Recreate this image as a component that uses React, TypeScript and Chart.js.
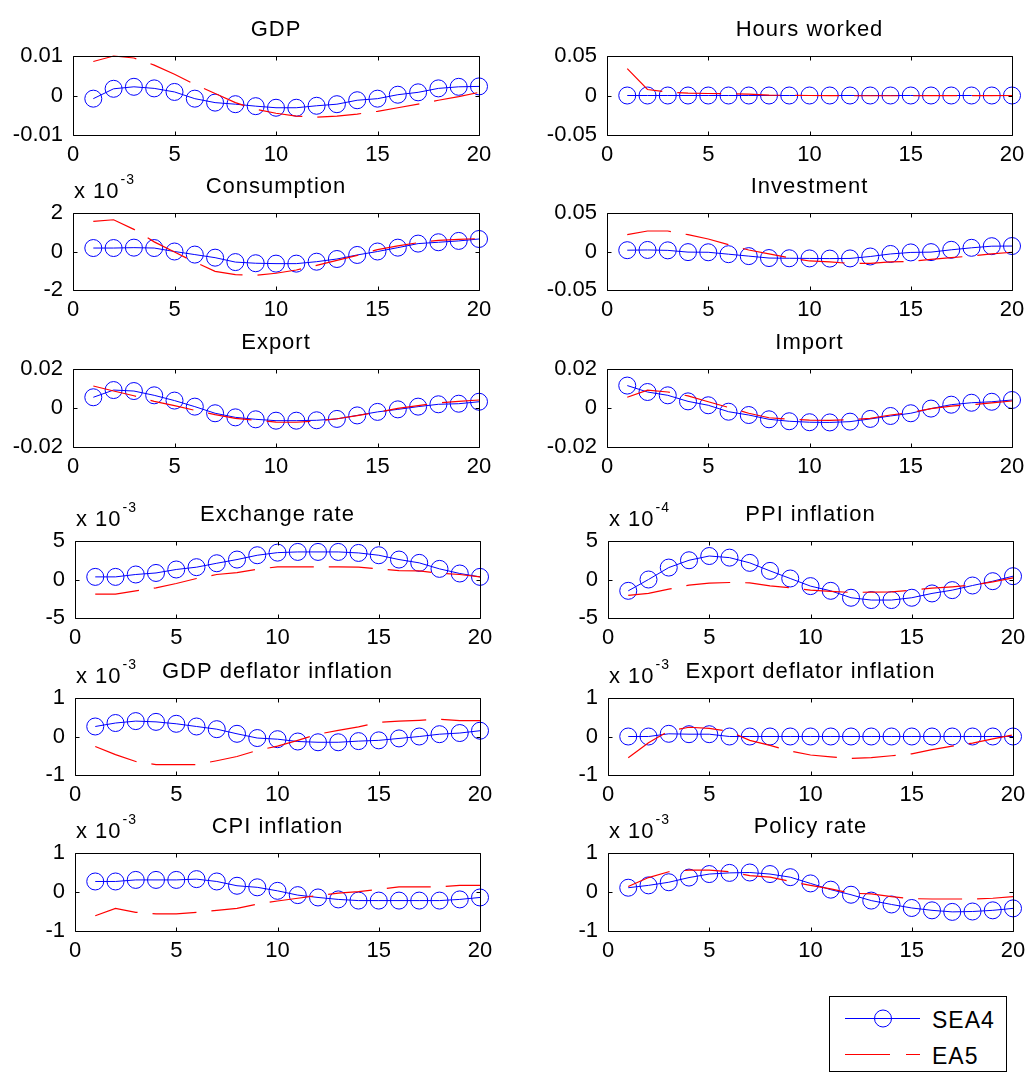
import React, { useEffect, useRef } from "react";
import { Chart, registerables } from "chart.js";

Chart.register(...registerables);

// ---------------- data ----------------
const periods = [1, 2, 3, 4, 5, 6, 7, 8, 9, 10, 11, 12, 13, 14, 15, 16, 17, 18, 19, 20];
const xTickValues = [0, 5, 10, 15, 20];
const seriesNames = ["SEA4", "EA5"];

const panelTitles = [
  "GDP",
  "Hours worked",
  "Consumption",
  "Investment",
  "Export",
  "Import",
  "Exchange rate",
  "PPI inflation",
  "GDP deflator inflation",
  "Export deflator inflation",
  "CPI inflation",
  "Policy rate",
];
// symmetric y limits (in displayed units) and the axis multiplier exponent
const yLimits = [0.01, 0.05, 2, 0.05, 0.02, 0.02, 5, 5, 1, 1, 1, 1];
const yExponents = ["", "", "-3", "", "", "", "-3", "-4", "-3", "-3", "-3", "-3"];

const gdpSEA4 = [-0.0008, 0.0017, 0.0022, 0.0018, 0.0009, -0.0008, -0.0018, -0.0022, -0.0027, -0.0031, -0.0031, -0.0026, -0.0022, -0.0012, -0.0008, 0.0002, 0.0008, 0.0018, 0.0022, 0.0023];
const gdpEA5 = [0.0086, 0.01, 0.0095, 0.0077, 0.0054, 0.0028, 0.0005, -0.0018, -0.0035, -0.0045, -0.0052, -0.0055, -0.0052, -0.0047, -0.004, -0.0031, -0.0022, -0.0012, -0.0003, 0.0008];

const hoursSEA4 = [0, 0, 0, 0, 0, 0, 0, 0, 0, 0, 0, 0, 0, 0, 0, 0, 0, 0, 0, 0];
const hoursEA5 = [0.034, 0.0076, 0.0042, 0.003, 0.0025, 0.0023, 0.0017, 0.0006, 0.0001, 0, -0.0002, -0.0003, -0.0003, -0.0003, -0.0003, -0.0002, -0.0002, -0.0001, -0.0001, 0];

const consSEA4 = [0.18, 0.18, 0.2, 0.18, 0.0, -0.16, -0.32, -0.55, -0.61, -0.63, -0.63, -0.53, -0.39, -0.18, 0.0, 0.2, 0.41, 0.48, 0.55, 0.65];
const consEA5 = [1.57, 1.65, 1.15, 0.5, -0.03, -0.55, -1.03, -1.2, -1.24, -1.13, -0.96, -0.72, -0.46, -0.2, 0.1, 0.29, 0.46, 0.58, 0.63, 0.67];

const invSEA4 = [0.0017, 0.002, 0.0015, -0.0008, -0.001, -0.0035, -0.006, -0.0085, -0.0088, -0.009, -0.0092, -0.009, -0.0065, -0.0032, -0.0012, -0.0008, 0.0022, 0.0048, 0.0069, 0.0071];
const invEA5 = [0.0219, 0.0266, 0.0266, 0.0219, 0.0162, 0.0089, 0.0019, -0.0032, -0.008, -0.0123, -0.0136, -0.0154, -0.0154, -0.0136, -0.0128, -0.0102, -0.008, -0.0058, -0.0032, -0.001];

const expSEA4 = [0.0055, 0.0092, 0.0087, 0.0065, 0.0038, 0.0007, -0.0027, -0.0048, -0.0058, -0.0065, -0.0065, -0.0063, -0.0056, -0.0038, -0.002, -0.0007, 0.0007, 0.0019, 0.0022, 0.0032];
const expEA5 = [0.0113, 0.0087, 0.0063, 0.0034, 0.0012, -0.0012, -0.0034, -0.0053, -0.0063, -0.0072, -0.0073, -0.0067, -0.0055, -0.0039, -0.0022, -0.0002, 0.0012, 0.0026, 0.0034, 0.0041];

const impSEA4 = [0.0115, 0.0082, 0.0065, 0.0034, 0.0014, -0.0019, -0.0036, -0.0058, -0.0068, -0.0073, -0.0074, -0.007, -0.0056, -0.0041, -0.0027, -0.0003, 0.0017, 0.0027, 0.0032, 0.0041];
const impEA5 = [0.0055, 0.0092, 0.0082, 0.0062, 0.0032, 0.0003, -0.0027, -0.005, -0.0058, -0.0062, -0.0063, -0.006, -0.0053, -0.0036, -0.0024, -0.0003, 0.001, 0.0017, 0.0026, 0.0036];

const exrSEA4 = [0.34, 0.34, 0.65, 0.85, 1.3, 1.6, 2.11, 2.59, 3.15, 3.49, 3.58, 3.58, 3.58, 3.45, 3.15, 2.59, 2.16, 1.38, 0.78, 0.34];
const exrEA5 = [-1.9, -1.9, -1.47, -1.08, -0.52, 0.13, 0.65, 0.9, 1.34, 1.64, 1.64, 1.64, 1.64, 1.6, 1.38, 1.16, 1.12, 0.82, 0.65, 0.34];

const ppiSEA4 = [-1.47, 0, 1.55, 2.5, 3.05, 2.84, 2.16, 1.12, 0.13, -0.86, -1.47, -2.37, -2.67, -2.67, -2.37, -1.81, -1.38, -0.78, -0.22, 0.43];
const ppiEA5 = [-2.07, -1.81, -1.25, -0.73, -0.47, -0.39, -0.43, -0.82, -1.08, -1.38, -1.55, -1.68, -1.64, -1.6, -1.38, -1.12, -0.95, -0.73, -0.3, 0.22];

const gdefSEA4 = [0.26, 0.35, 0.4, 0.38, 0.33, 0.26, 0.19, 0.07, -0.04, -0.07, -0.13, -0.15, -0.15, -0.12, -0.1, -0.05, 0, 0.06, 0.09, 0.15];
const gdefEA5 = [-0.26, -0.47, -0.65, -0.73, -0.73, -0.73, -0.63, -0.52, -0.36, -0.25, -0.1, 0.06, 0.16, 0.25, 0.37, 0.4, 0.42, 0.45, 0.41, 0.41];

const edefSEA4 = [0, 0, 0.07, 0.06, 0.06, 0, 0, 0, 0, 0, 0, 0, 0, 0, 0, 0, 0, 0, 0, 0];
const edefEA5 = [-0.55, -0.16, 0.14, 0.24, 0.21, 0.13, -0.1, -0.23, -0.38, -0.48, -0.53, -0.57, -0.55, -0.5, -0.45, -0.34, -0.25, -0.17, -0.06, 0.04];

const cpiSEA4 = [0.27, 0.27, 0.31, 0.31, 0.31, 0.33, 0.27, 0.16, 0.12, 0.03, -0.08, -0.14, -0.19, -0.22, -0.22, -0.22, -0.22, -0.22, -0.19, -0.14];
const cpiEA5 = [-0.61, -0.42, -0.52, -0.56, -0.56, -0.52, -0.47, -0.42, -0.31, -0.23, -0.16, -0.09, -0.03, 0.01, 0.07, 0.13, 0.13, 0.13, 0.17, 0.17];

const polSEA4 = [0.11, 0.17, 0.25, 0.37, 0.46, 0.49, 0.5, 0.46, 0.38, 0.22, 0.06, -0.07, -0.22, -0.32, -0.41, -0.47, -0.51, -0.5, -0.47, -0.42];
const polEA5 = [0.14, 0.37, 0.52, 0.56, 0.56, 0.52, 0.42, 0.38, 0.27, 0.17, 0.08, -0.03, -0.05, -0.12, -0.17, -0.18, -0.18, -0.18, -0.16, -0.12];

const sea4Series = [gdpSEA4, hoursSEA4, consSEA4, invSEA4, expSEA4, impSEA4, exrSEA4, ppiSEA4, gdefSEA4, edefSEA4, cpiSEA4, polSEA4];
const ea5Series = [gdpEA5, hoursEA5, consEA5, invEA5, expEA5, impEA5, exrEA5, ppiEA5, gdefEA5, edefEA5, cpiEA5, polEA5];

// ---------------- layout ----------------
const rowTops = [56, 213, 369, 541, 698, 853];
const rowHeights = [79, 77, 78, 77, 77, 78];
const colLefts = [
  [73, 607],
  [73, 607],
  [73, 607],
  [75, 608],
  [75, 608],
  [75, 608],
];
const colWidths = [
  [406, 405],
  [406, 405],
  [406, 405],
  [405, 405],
  [405, 405],
  [405, 405],
];

const FONT = '"Liberation Sans", Arial, Helvetica, sans-serif';
const PAD_LEFT = 70;
const PAD_TOP = 45;
const PAD_RIGHT = 25;
const PAD_BOTTOM = 35;

const matlabAxesPlugin = {
  id: "matlabAxes",
  afterDatasetsDraw(chart: any, _args: any, opts: any) {
    const { ctx, chartArea: a, scales } = chart;
    const xs = scales.x;
    const ys = scales.y;
    const L = Math.round(a.left) + 0.5;
    const R = Math.round(a.right) + 0.5;
    const T = Math.round(a.top) + 0.5;
    const B = Math.round(a.bottom) + 0.5;
    ctx.save();
    ctx.strokeStyle = "#000";
    ctx.lineWidth = 1;
    ctx.setLineDash([]);
    ctx.beginPath();
    ctx.rect(L, T, R - L, B - T);
    ctx.stroke();
    const tl = 4;
    ctx.beginPath();
    xs.ticks.forEach((t: any) => {
      const px = Math.round(xs.getPixelForValue(t.value)) + 0.5;
      ctx.moveTo(px, B);
      ctx.lineTo(px, B - tl);
      ctx.moveTo(px, T);
      ctx.lineTo(px, T + tl);
    });
    ys.ticks.forEach((t: any) => {
      const py = Math.round(ys.getPixelForValue(t.value)) + 0.5;
      ctx.moveTo(L, py);
      ctx.lineTo(L + tl, py);
      ctx.moveTo(R, py);
      ctx.lineTo(R - tl, py);
    });
    ctx.stroke();

    ctx.fillStyle = "#000";
    ctx.textBaseline = "alphabetic";
    try {
      (ctx as any).letterSpacing = "1px";
    } catch (e) {}
    ctx.font = `22px ${FONT}`;
    ctx.textAlign = "center";
    ctx.fillText(opts.title, (a.left + a.right) / 2, a.top - 20);
    if (opts.exp) {
      ctx.textAlign = "left";
      ctx.font = `22px ${FONT}`;
      const base = "x 10";
      ctx.fillText(base, a.left + 1, a.top - 15);
      const w = ctx.measureText(base).width;
      ctx.font = `14px ${FONT}`;
      ctx.fillText(opts.exp, a.left + 1 + w + 1, a.top - 29);
    }
    try {
      (ctx as any).letterSpacing = "0px";
    } catch (e) {}
    ctx.restore();
  },
};

function Panel({ index }: { index: number }) {
  const ref = useRef<HTMLCanvasElement | null>(null);
  const row = Math.floor(index / 2);
  const col = index % 2;
  const left = colLefts[row][col];
  const width = colWidths[row][col];
  const top = rowTops[row];
  const height = rowHeights[row];
  const cw = PAD_LEFT + width + PAD_RIGHT;
  const ch = PAD_TOP + height + PAD_BOTTOM;

  useEffect(() => {
    if (!ref.current) return;
    const lim = yLimits[index];
    const sea = sea4Series[index];
    const ea = ea5Series[index];
    const tickFont = { family: FONT, size: 22 };
    const chart = new Chart(ref.current, {
      type: "line",
      data: {
        datasets: [
          {
            label: seriesNames[0],
            data: sea.map((v, i) => ({ x: periods[i], y: v })),
            borderColor: "#0000ff",
            borderWidth: 1,
            pointRadius: 8.5,
            pointHoverRadius: 8.5,
            pointStyle: "circle",
            pointBorderColor: "#0000ff",
            pointBackgroundColor: "rgba(0,0,0,0)",
            pointBorderWidth: 1,
            fill: false,
            tension: 0,
            clip: false,
            order: 1,
          },
          {
            label: seriesNames[1],
            data: ea.map((v, i) => ({ x: periods[i], y: v })),
            borderColor: "#ff0000",
            borderWidth: 1.2,
            borderDash: [44, 15],
            pointRadius: 0,
            pointHoverRadius: 0,
            fill: false,
            tension: 0,
            clip: false,
            order: 0,
          },
        ],
      },
      options: {
        animation: false,
        responsive: false,
        devicePixelRatio: 1,
        events: [],
        layout: { padding: { left: 0, top: PAD_TOP, right: PAD_RIGHT, bottom: 0 } },
        scales: {
          x: {
            type: "linear",
            min: 0,
            max: 20,
            afterBuildTicks: (s: any) => {
              s.ticks = xTickValues.map((v) => ({ value: v }));
            },
            afterFit: (s: any) => {
              s.height = PAD_BOTTOM;
            },
            grid: { display: false, drawTicks: false },
            border: { display: false },
            ticks: {
              font: tickFont,
              color: "#000",
              padding: 7,
              maxRotation: 0,
              autoSkip: false,
              callback: (v: any) => String(v),
            },
          },
          y: {
            type: "linear",
            min: -lim,
            max: lim,
            afterBuildTicks: (s: any) => {
              s.ticks = [-lim, 0, lim].map((v) => ({ value: v }));
            },
            afterFit: (s: any) => {
              s.width = PAD_LEFT;
            },
            grid: { display: false, drawTicks: false },
            border: { display: false },
            ticks: {
              font: tickFont,
              color: "#000",
              padding: 10,
              autoSkip: false,
              callback: (v: any) => String(v),
            },
          },
        },
        plugins: {
          legend: { display: false },
          tooltip: { enabled: false },
          matlabAxes: { title: panelTitles[index], exp: yExponents[index] },
        } as any,
      },
      plugins: [matlabAxesPlugin],
    } as any);
    return () => chart.destroy();
  }, [index]);

  return (
    <canvas
      ref={ref}
      width={cw}
      height={ch}
      style={{
        position: "absolute",
        left: left - PAD_LEFT,
        top: top - PAD_TOP,
        width: cw,
        height: ch,
      }}
    />
  );
}

function Legend() {
  return (
    <div
      style={{
        position: "absolute",
        left: 829,
        top: 996,
        width: 176,
        height: 74,
        border: "1px solid #000",
        background: "#fff",
      }}
    >
      <svg width={176} height={74} style={{ position: "absolute", left: 0, top: 0 }}>
        <line x1={15} y1={21.5} x2={90} y2={21.5} stroke="#0000ff" strokeWidth={1} />
        <circle cx={53} cy={21.5} r={8.5} fill="none" stroke="#0000ff" strokeWidth={1} />
        <line x1={15} y1={57.5} x2={90} y2={57.5} stroke="#ff0000" strokeWidth={1.2} strokeDasharray="45 16" />
        <text x={102} y={31} fontFamily={FONT} fontSize={23} letterSpacing={1} fill="#000">
          {seriesNames[0]}
        </text>
        <text x={102} y={67} fontFamily={FONT} fontSize={23} letterSpacing={1} fill="#000">
          {seriesNames[1]}
        </text>
      </svg>
    </div>
  );
}

export default function App() {
  return (
    <div
      style={{
        position: "absolute",
        left: 0,
        top: 0,
        width: 1031,
        height: 1074,
        background: "#fff",
        overflow: "hidden",
      }}
    >
      {panelTitles.map((_, i) => (
        <Panel key={i} index={i} />
      ))}
      <Legend />
    </div>
  );
}
